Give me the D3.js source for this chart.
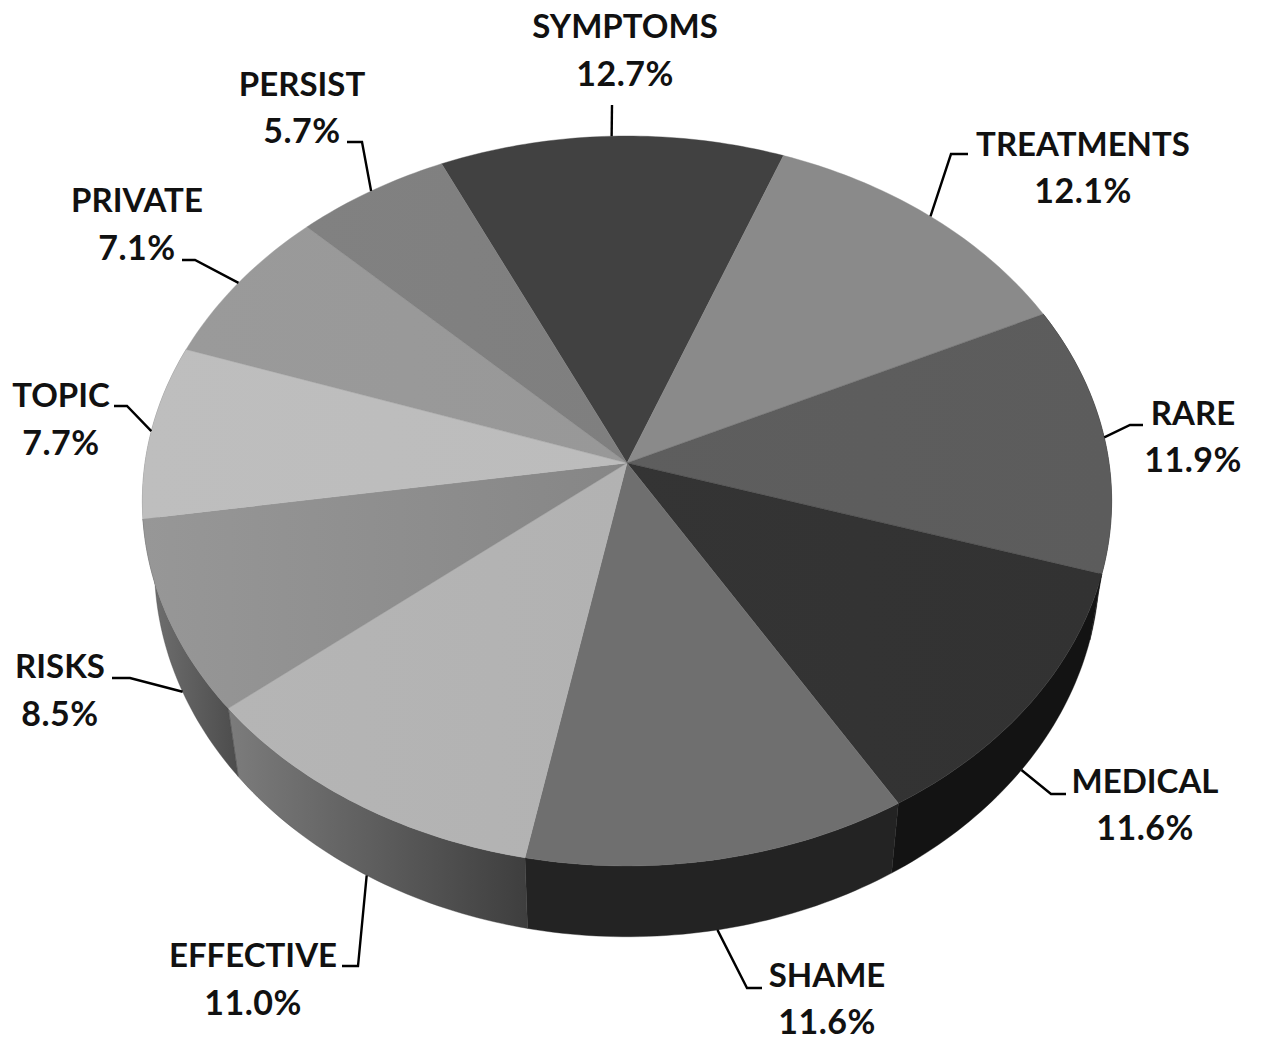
<!DOCTYPE html>
<html>
<head>
<meta charset="utf-8">
<script src="https://cdn.jsdelivr.net/npm/d3@7/dist/d3.min.js"></script>
<style>
  html, body { margin: 0; padding: 0; background: #fff; }
  text { font-family: Lato, "Open Sans", sans-serif; font-weight: 700; fill: #111; text-anchor: middle; }
  .name { font-size: 33px; }
  .share { font-size: 34px; letter-spacing: 0.5px; }
</style>
</head>
<body>
<svg id="chart" width="1262" height="1040"></svg>
<script>
// Term shares, clockwise from the back of the disc
const terms = ["SYMPTOMS", "TREATMENTS", "RARE", "MEDICAL", "SHAME", "EFFECTIVE", "RISKS", "TOPIC", "PRIVATE", "PERSIST"];
const shares = [12.7, 12.1, 11.9, 11.6, 11.6, 11.0, 8.5, 7.7, 7.1, 5.7];

// Face shading: top face left/right and rim left/right
const topFrom = ["#414141", "#8a8a8a", "#5e5e5e", "#343434", "#6f6f6f", "#b5b5b5", "#979797", "#bebebe", "#9a9a9a", "#818181"];
const topTo   = ["#414141", "#8a8a8a", "#5c5c5c", "#323232", "#6f6f6f", "#b2b2b2", "#868686", "#bcbcbc", "#989898", "#7f7f7f"];
const rimFrom = ["#333333", "#555555", "#111111", "#131313", "#232323", "#7c7c7c", "#727272", "#777777", "#777777", "#555555"];
const rimTo   = ["#333333", "#555555", "#111111", "#131313", "#232323", "#3e3e3e", "#4c4c4c", "#777777", "#777777", "#555555"];

// Label anchors: centre x, name baseline, value baseline, and the leader's elbow and tail
const labelX    = [625, 1083, 1193, 1145, 827, 253, 60, 61, 137, 302];
const nameY     = [38, 156, 425, 793, 987, 967, 678, 407, 212, 96];
const valueY    = [86, 203, 472, 840, 1034, 1015, 726, 455, 260, 143];
const elbows    = [[612, 105], [951, 154], [1130, 425], [1051, 794], [747, 988], [358, 966], [130, 678], [127, 406], [195, 260], [362, 142]];
const tails     = [null, [968, 154], [1143, 425], [1066, 794], [762, 988], [342, 966], [112, 678], [114, 406], [182, 260], [347, 142]];
// Degrees a leader's foot sits away from its wedge's middle angle
const footShift = [0, 0, 0, 0, 0, -0.5, -1.3, 0, 0, 0];

// Perspective disc: a unit circle tilted toward the viewer, with a lower rim narrowed by depth
const tilt = 0.104;
const hub = { x: 627, y: 463 };
const halfW = 482, halfH = 361;
const floor = { y: 527, scaleX: 0.975, scaleY: 1.017 };
const startDeg = -24.9;

const svg = d3.select("#chart");
const defs = svg.append("defs");

const pie = d3.pie().sort(null)
  .startAngle(startDeg * Math.PI / 180)
  .endAngle((startDeg + 360) * Math.PI / 180);
const arcs = pie(shares);

const xTop = d3.scaleLinear().domain([-1, 1]).range([hub.x - halfW, hub.x + halfW]);
const yTop = d3.scaleLinear().domain([-1, 1]).range([hub.y + halfH, hub.y - halfH]);
const xLow = d3.scaleLinear().domain([-1, 1]).range([hub.x - halfW * floor.scaleX, hub.x + halfW * floor.scaleX]);
const yLow = d3.scaleLinear().domain([-1, 1]).range([floor.y + halfH * floor.scaleY, floor.y - halfH * floor.scaleY]);

function rimPoint(angle, low) {
  const u = Math.sin(angle), v = Math.cos(angle), w = 1 + tilt * v;
  return low ? [xLow(u / w), yLow(v / w)] : [xTop(u / w), yTop(v / w)];
}
function rimPath(a0, a1, low) {
  const n = Math.max(2, Math.ceil(Math.abs(a1 - a0) * 60));
  return d3.range(n + 1).map(i => rimPoint(a0 + (a1 - a0) * i / n, low));
}
const line = d3.line();

function shade(id, from, to) {
  const g = defs.append("linearGradient").attr("id", id);
  g.append("stop").attr("offset", 0).attr("stop-color", from);
  g.append("stop").attr("offset", 1).attr("stop-color", to);
  return `url(#${id})`;
}

// Rim walls first, front half only, so the top face sits over their upper edge
const frontArcs = arcs.filter(d => Math.cos((d.startAngle + d.endAngle) / 2) < 0.2);
svg.append("g").selectAll("path").data(frontArcs).join("path")
  .attr("d", d => line(rimPath(d.startAngle, d.endAngle, false).concat(rimPath(d.endAngle, d.startAngle, true))) + "Z")
  .attr("fill", d => shade("rim" + d.index, rimFrom[d.index], rimTo[d.index]))
  .attr("stroke", d => rimTo[d.index])
  .attr("stroke-width", 0.4);

// Top face wedges
svg.append("g").selectAll("path").data(arcs).join("path")
  .attr("d", d => line([[xTop(0), yTop(0)]].concat(rimPath(d.startAngle, d.endAngle, false))) + "Z")
  .attr("fill", (d, i) => shade("top" + i, topFrom[i], topTo[i]))
  .attr("stroke", (d, i) => topTo[i])
  .attr("stroke-width", 0.4);

// Leader lines start on the visible outer edge near each wedge's middle angle
const leaders = svg.append("g");
arcs.forEach((d, i) => {
  const mid = (d.startAngle + d.endAngle) / 2 + footShift[i] * Math.PI / 180;
  const pts = [rimPoint(mid, Math.cos(mid) < 0), elbows[i]];
  if (tails[i]) pts.push(tails[i]);
  leaders.append("path").attr("d", line(pts))
    .attr("fill", "none").attr("stroke", "#000").attr("stroke-width", 2.4);
});

// Two-line labels: term above, share below
const labels = svg.append("g");
terms.forEach((t, i) => {
  labels.append("text").attr("class", "name").attr("x", labelX[i]).attr("y", nameY[i]).text(t);
  labels.append("text").attr("class", "share").attr("x", labelX[i]).attr("y", valueY[i]).text(shares[i].toFixed(1) + "%");
});
</script>
</body>
</html>
